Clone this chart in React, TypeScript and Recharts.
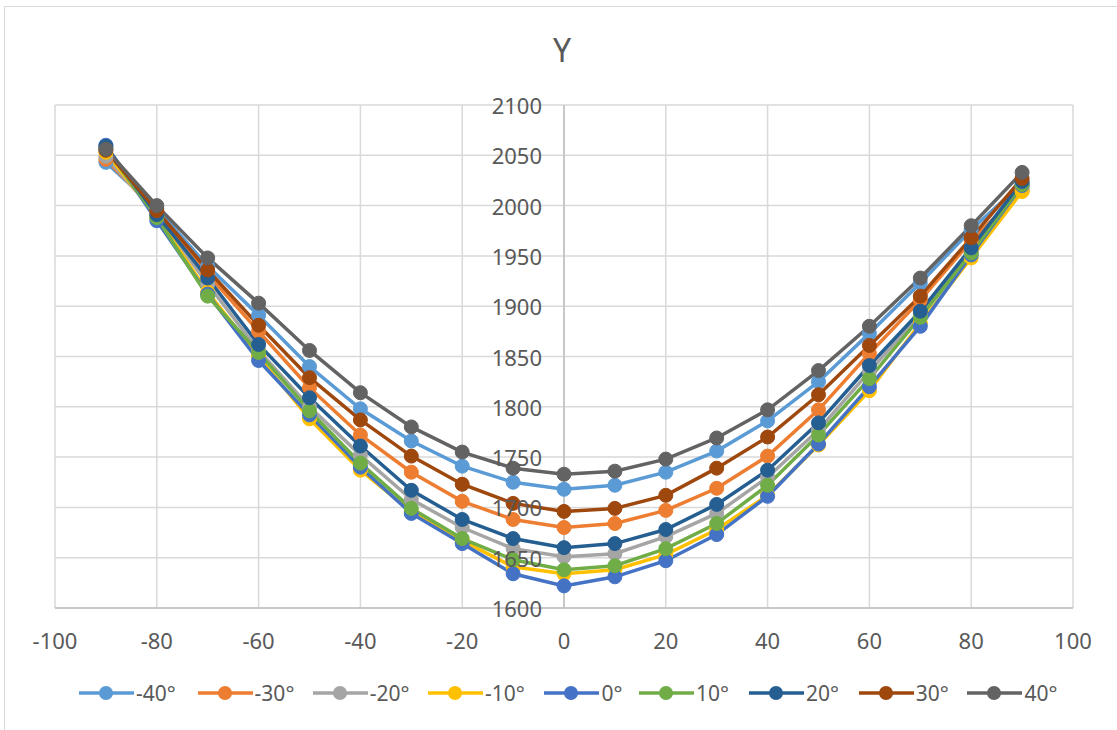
import React from "react";
import { LineChart, Line, XAxis, YAxis, CartesianGrid, ReferenceLine, Legend } from "recharts";

const X_VALUES = [-90, -80, -70, -60, -50, -40, -30, -20, -10, 0, 10, 20, 30, 40, 50, 60, 70, 80, 90];

const S_M40 = [2043, 1997, 1940, 1891, 1840, 1798, 1766, 1741, 1725, 1718, 1722, 1735, 1756, 1786, 1825, 1873, 1923, 1976, 2022];
const S_M30 = [2046, 1994, 1932, 1875, 1819, 1772, 1735, 1706, 1688, 1680, 1684, 1697, 1719, 1751, 1797, 1853, 1906, 1965, 2015];
const S_M20 = [2049, 1991, 1922, 1856, 1800, 1752, 1708, 1680, 1659, 1651, 1654, 1671, 1694, 1730, 1777, 1835, 1892, 1955, 2018];
const S_M10 = [2053, 1989, 1914, 1850, 1788, 1737, 1696, 1667, 1641, 1634, 1638, 1653, 1678, 1712, 1762, 1816, 1883, 1948, 2014];
const S_0 = [2060, 1985, 1912, 1846, 1792, 1740, 1694, 1664, 1634, 1622, 1631, 1647, 1673, 1711, 1763, 1820, 1880, 1951, 2020];
const S_10 = [2057, 1988, 1910, 1854, 1796, 1744, 1699, 1669, 1648, 1638, 1642, 1659, 1684, 1722, 1772, 1828, 1889, 1953, 2021];
const S_20 = [2059, 1991, 1928, 1862, 1809, 1761, 1717, 1688, 1669, 1660, 1664, 1678, 1703, 1737, 1784, 1841, 1895, 1958, 2024];
const S_30 = [2055, 1995, 1936, 1881, 1829, 1787, 1751, 1723, 1704, 1696, 1699, 1712, 1739, 1770, 1812, 1861, 1910, 1968, 2027];
const S_40 = [2056, 2000, 1948, 1903, 1856, 1814, 1780, 1755, 1739, 1733, 1736, 1748, 1769, 1797, 1836, 1880, 1928, 1980, 2033];

const SERIES_NAMES = ["-40°", "-30°", "-20°", "-10°", "0°", "10°", "20°", "30°", "40°"];
const SERIES_VALUES = [S_M40, S_M30, S_M20, S_M10, S_0, S_10, S_20, S_30, S_40];
const SERIES_COLORS = ["#5B9BD5", "#ED7D31", "#A5A5A5", "#FFC000", "#4472C4", "#70AD47", "#255E91", "#9E480E", "#636363"];

const X_TICKS = [-100, -80, -60, -40, -20, 0, 20, 40, 60, 80, 100];
const Y_TICKS = [1600, 1650, 1700, 1750, 1800, 1850, 1900, 1950, 2000, 2050, 2100];

const data = X_VALUES.map((x, i) => {
  const row: Record<string, number> = { x };
  SERIES_VALUES.forEach((s, k) => {
    row["s" + k] = s[i];
  });
  return row;
});

const W = 1117;
const H = 730;
const PLOT_LEFT = 55;
const PLOT_RIGHT = 1073;
const PLOT_TOP = 105;
const PLOT_BOTTOM = 608;
const PLOT_CX = (PLOT_LEFT + PLOT_RIGHT) / 2;
const FONT = "'Noto Sans', 'Open Sans', sans-serif";
const TEXT = "#595959";
const LEGEND_ITEM_W = [118.6, 115.2, 115.2, 116.5, 94.5, 110, 109.7, 108.8, 90];

const YTick = (props: any) => {
  const { y, payload } = props;
  return (
    <text x={PLOT_CX - 22} y={y} textAnchor="end" dominantBaseline="central" fill={TEXT} fontSize={22} fontFamily={FONT}>
      {payload.value}
    </text>
  );
};

const XTick = (props: any) => {
  const { x, payload } = props;
  return (
    <text x={x} y={PLOT_BOTTOM + 32} textAnchor="middle" dominantBaseline="central" fill={TEXT} fontSize={22} fontFamily={FONT}>
      {payload.value}
    </text>
  );
};

const LegendContent = () => (
  <div style={{ display: "flex", alignItems: "center", paddingLeft: 79, fontFamily: FONT, fontSize: 21, color: TEXT }}>
    {SERIES_NAMES.map((n, k) => (
      <div key={n} style={{ display: "flex", alignItems: "center", width: LEGEND_ITEM_W[k], flex: "none", whiteSpace: "nowrap" }}>
        <svg width={55} height={18} style={{ display: "block", flex: "none" }}>
          <line x1={0} y1={9} x2={55} y2={9} stroke={SERIES_COLORS[k]} strokeWidth={3.5} />
          <circle cx={27} cy={9} r={7} fill={SERIES_COLORS[k]} />
        </svg>
        <span style={{ marginLeft: 2, lineHeight: "22px" }}>{n}</span>
      </div>
    ))}
  </div>
);

export default function App() {
  return (
    <div style={{ position: "absolute", left: 0, top: 0, width: W, height: H, background: "#fff", overflow: "hidden" }}>
      <div style={{ position: "absolute", left: 4, top: 6, width: W + 20, height: H + 20, border: "1.5px solid #D9D9D9", boxSizing: "border-box" }} />
      <div style={{ position: "absolute", left: 0, top: 28, width: 1124, textAlign: "center", fontFamily: FONT, fontSize: 32, color: TEXT, lineHeight: "44px" }}>
        Y
      </div>
      <div style={{ position: "absolute", left: 0, top: 0 }}>
        <LineChart
          width={W}
          height={H}
          data={data}
          margin={{ top: PLOT_TOP, right: W - PLOT_RIGHT, left: PLOT_LEFT - 1, bottom: H - PLOT_BOTTOM - 40 }}
        >
          <CartesianGrid stroke="#D9D9D9" strokeWidth={1.5} />
          <XAxis
            dataKey="x"
            type="number"
            domain={[-100, 100]}
            ticks={X_TICKS}
            height={40}
            tickLine={false}
            axisLine={{ stroke: "#BFBFBF", strokeWidth: 1.5 }}
            tick={<XTick />}
            interval={0}
          />
          <ReferenceLine x={0} stroke="#BFBFBF" strokeWidth={1.5} ifOverflow="visible" />
          {SERIES_NAMES.map((n, k) => (
            <Line
              key={n}
              name={n}
              dataKey={"s" + k}
              type="linear"
              stroke={SERIES_COLORS[k]}
              strokeWidth={3.5}
              dot={{ r: 7, fill: SERIES_COLORS[k], stroke: SERIES_COLORS[k], strokeWidth: 1 }}
              activeDot={false}
              isAnimationActive={false}
            />
          ))}
          <YAxis
            type="number"
            domain={[1600, 2100]}
            ticks={Y_TICKS}
            width={1}
            tickLine={false}
            axisLine={false}
            tick={<YTick />}
            interval={0}
          />
          <Legend
            layout="horizontal"
            verticalAlign="middle"
            align="center"
            wrapperStyle={{ top: 682, left: 0, width: W, height: 24 }}
            content={<LegendContent />}
          />
        </LineChart>
      </div>
    </div>
  );
}
